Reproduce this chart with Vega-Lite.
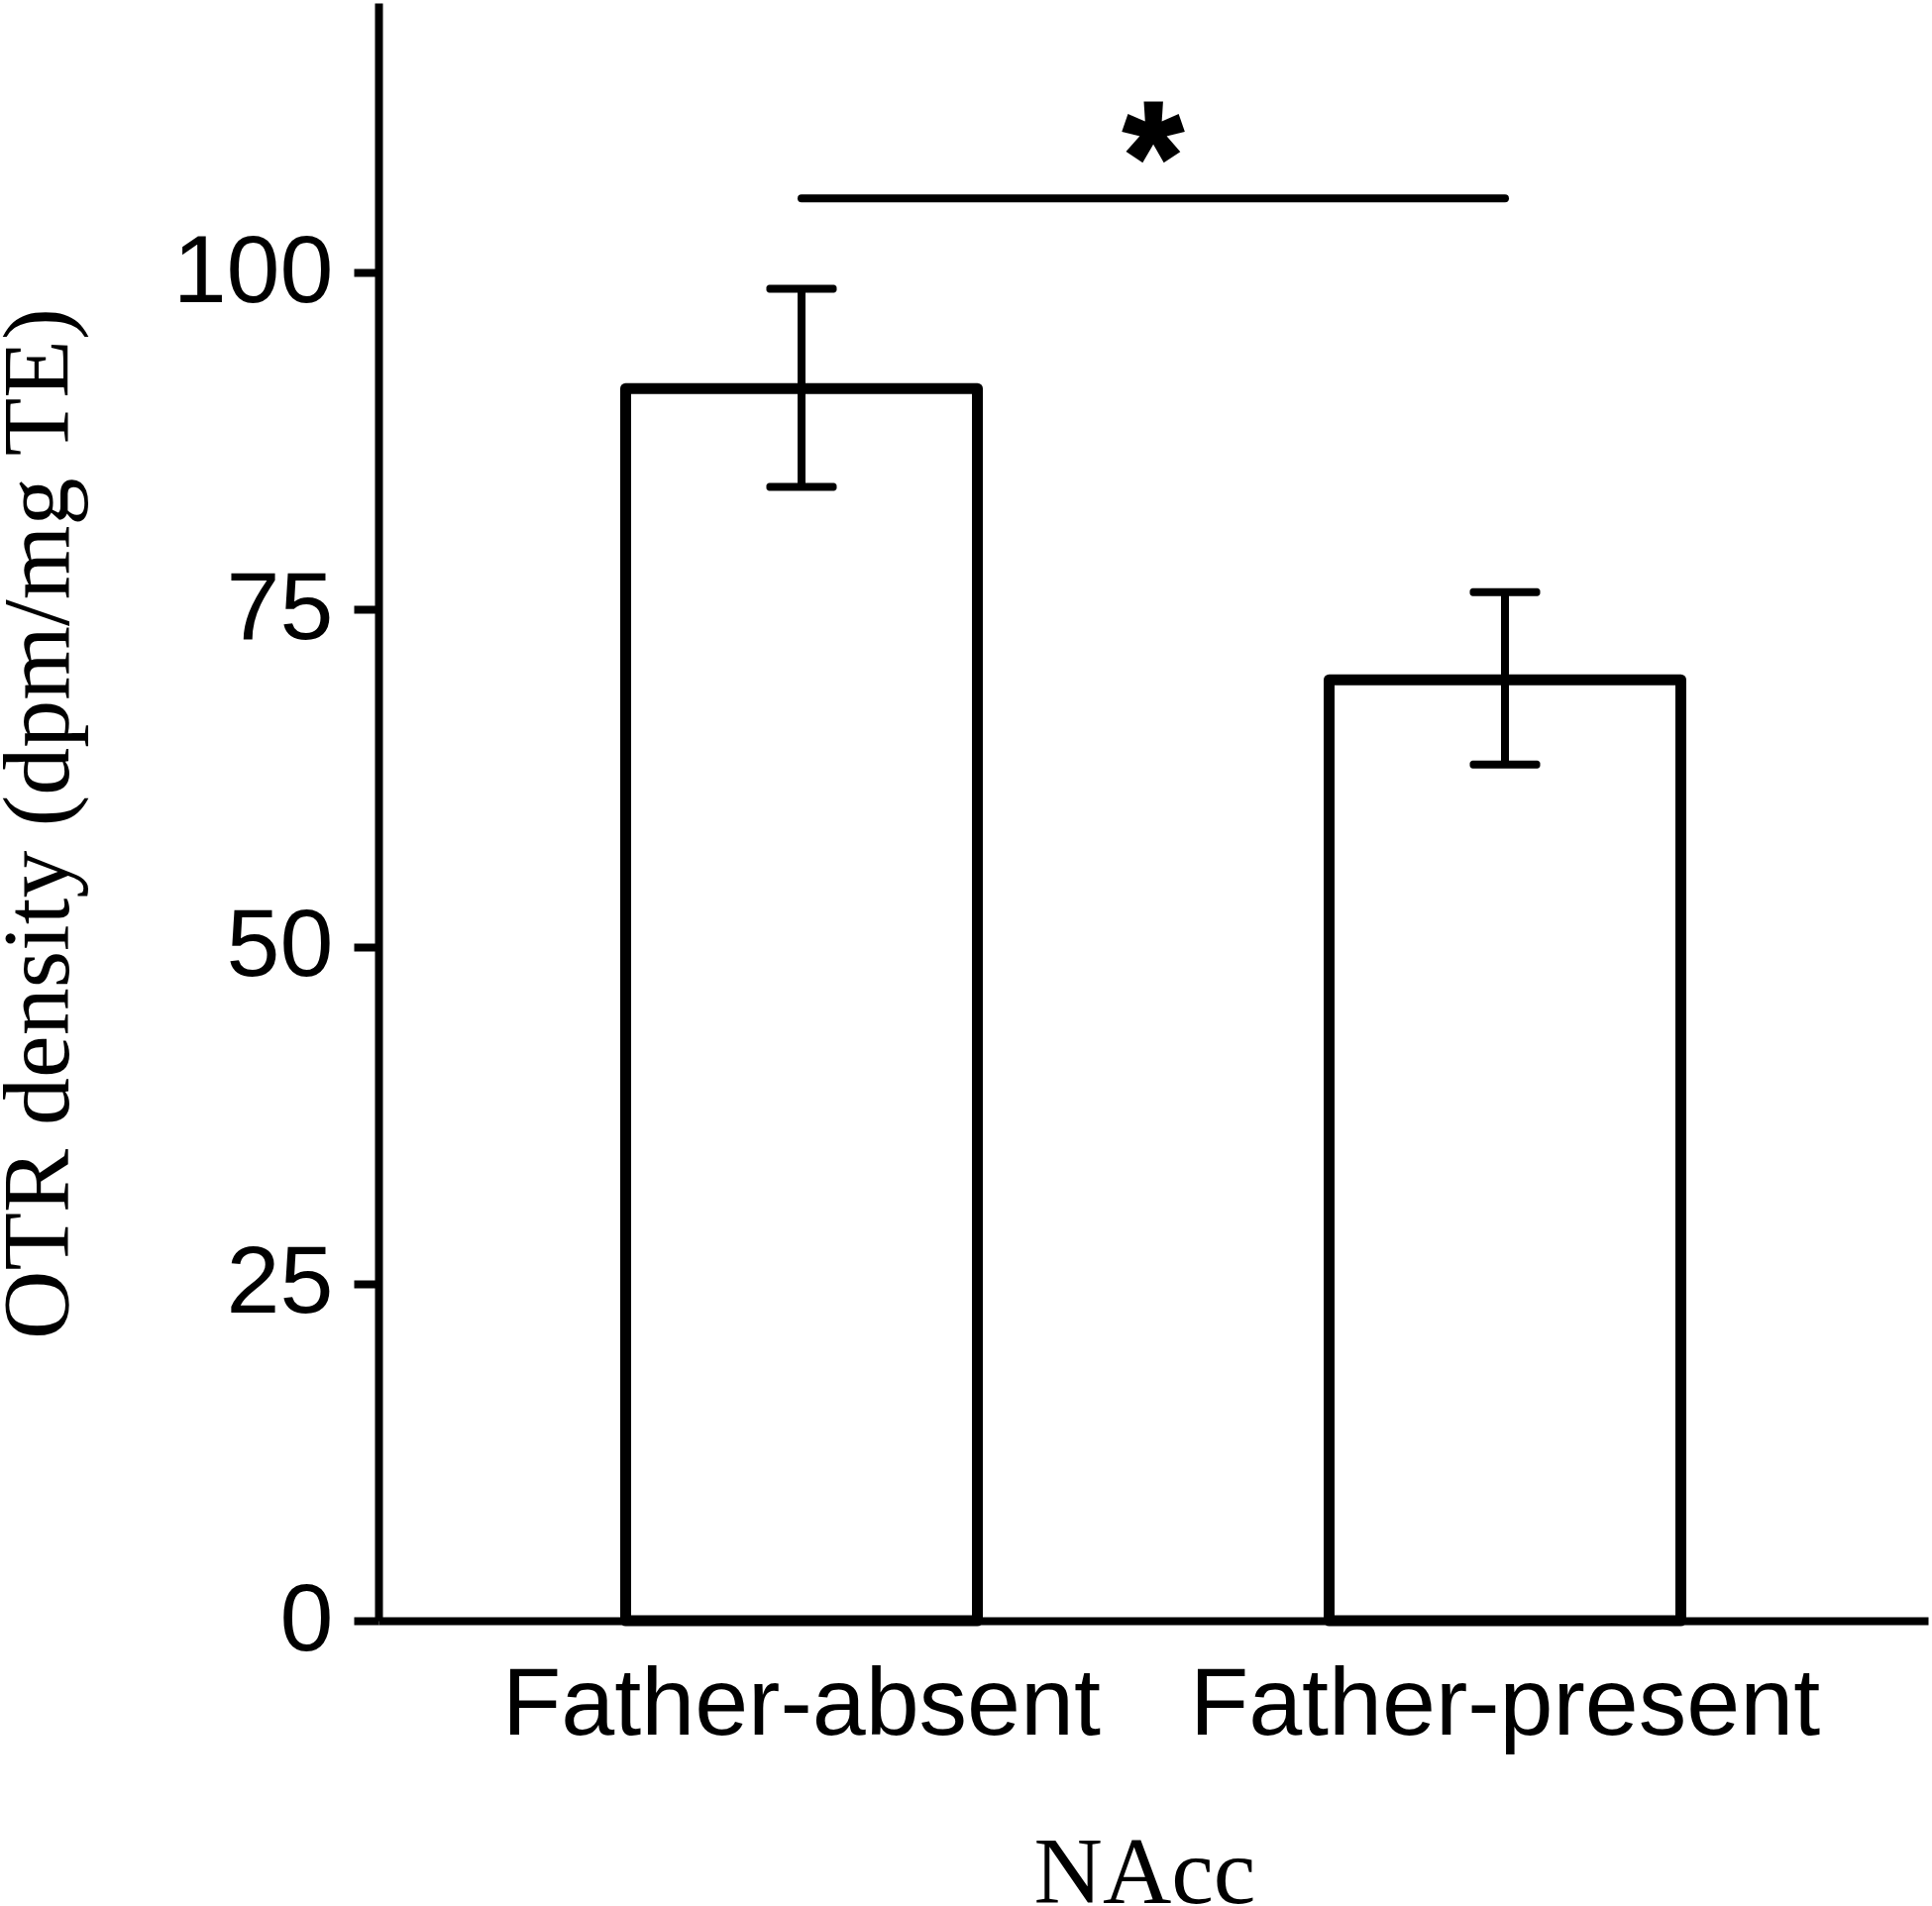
{
  "$schema": "https://vega.github.io/schema/vega-lite/v6.json",
  "autosize": "none",
  "width": 1564,
  "height": 1633,
  "padding": {"left": 382, "top": 3, "right": 4, "bottom": 288},
  "background": "white",
  "config": {
    "font": "Liberation Sans",
    "view": {"stroke": null},
    "axis": {
      "grid": false,
      "domainColor": "black",
      "domainWidth": 8,
      "tickColor": "black",
      "tickWidth": 8,
      "labelColor": "black",
      "titleColor": "black",
      "labelFont": "Liberation Sans",
      "labelFontSize": 97,
      "labelLimit": 2000,
      "titleLimit": 3000,
      "titleFont": "Liberation Serif",
      "titleFontSize": 96,
      "titleFontWeight": "normal"
    }
  },
  "datasets": {
    "bars": [
      {"group": "Father-absent", "mean": 91.4, "lo": 84.1, "hi": 98.8},
      {"group": "Father-present", "mean": 69.8, "lo": 63.5, "hi": 76.3}
    ],
    "sig": [
      {"from": "Father-absent", "to": "Father-present", "y": 105.5, "star_y": 104.7, "label": "*"}
    ]
  },
  "layer": [
    {
      "data": {"name": "bars"},
      "mark": {"type": "bar", "fill": "white", "stroke": "black", "strokeWidth": 11, "strokeJoin": "round"},
      "encoding": {
        "x": {
          "field": "group", "type": "nominal", "sort": ["Father-absent", "Father-present"],
          "scale": {"paddingInner": 0.5, "paddingOuter": 0.3514},
          "axis": {
            "title": "NAcc", "labelAngle": 0, "ticks": false, "tickSize": 0,
            "labelBaseline": "alphabetic", "labelPadding": 114,
            "titleBaseline": "alphabetic", "titleAlign": "center", "titleX": 773, "titleY": 284
          }
        },
        "y": {
          "field": "mean", "type": "quantitative",
          "scale": {"domain": [0, 120], "nice": false},
          "axis": {
            "title": "OTR density (dpm/mg TE)", "values": [0, 25, 50, 75, 100],
            "tickSize": 25, "labelPadding": 21, "labelBaseline": "middle",
            "titleAngle": -90, "titleBaseline": "alphabetic", "titleAlign": "center",
            "titleX": -314, "titleY": 828
          }
        }
      }
    },
    {
      "data": {"name": "bars"},
      "mark": {"type": "rule", "color": "black", "strokeWidth": 8},
      "encoding": {
        "x": {"field": "group", "type": "nominal"},
        "y": {"field": "lo", "type": "quantitative"},
        "y2": {"field": "hi"}
      }
    },
    {
      "data": {"name": "bars"},
      "mark": {"type": "tick", "color": "black", "size": 71, "thickness": 8, "cornerRadius": 3, "opacity": 1},
      "encoding": {
        "x": {"field": "group", "type": "nominal"},
        "y": {"field": "hi", "type": "quantitative"}
      }
    },
    {
      "data": {"name": "bars"},
      "mark": {"type": "tick", "color": "black", "size": 71, "thickness": 8, "cornerRadius": 3, "opacity": 1},
      "encoding": {
        "x": {"field": "group", "type": "nominal"},
        "y": {"field": "lo", "type": "quantitative"}
      }
    },
    {
      "data": {"name": "sig"},
      "mark": {"type": "rule", "color": "black", "strokeWidth": 8, "strokeCap": "round"},
      "encoding": {
        "x": {"field": "from", "type": "nominal"},
        "x2": {"field": "to"},
        "y": {"field": "y", "type": "quantitative"}
      }
    },
    {
      "data": {"name": "sig"},
      "mark": {"type": "text", "font": "Liberation Sans", "fontWeight": "bold", "fontSize": 155, "baseline": "alphabetic", "align": "center", "color": "black", "stroke": "black", "strokeWidth": 3},
      "encoding": {
        "x": {"field": "from", "type": "nominal", "bandPosition": 1.5},
        "y": {"field": "star_y", "type": "quantitative"},
        "text": {"field": "label"}
      }
    }
  ]
}
